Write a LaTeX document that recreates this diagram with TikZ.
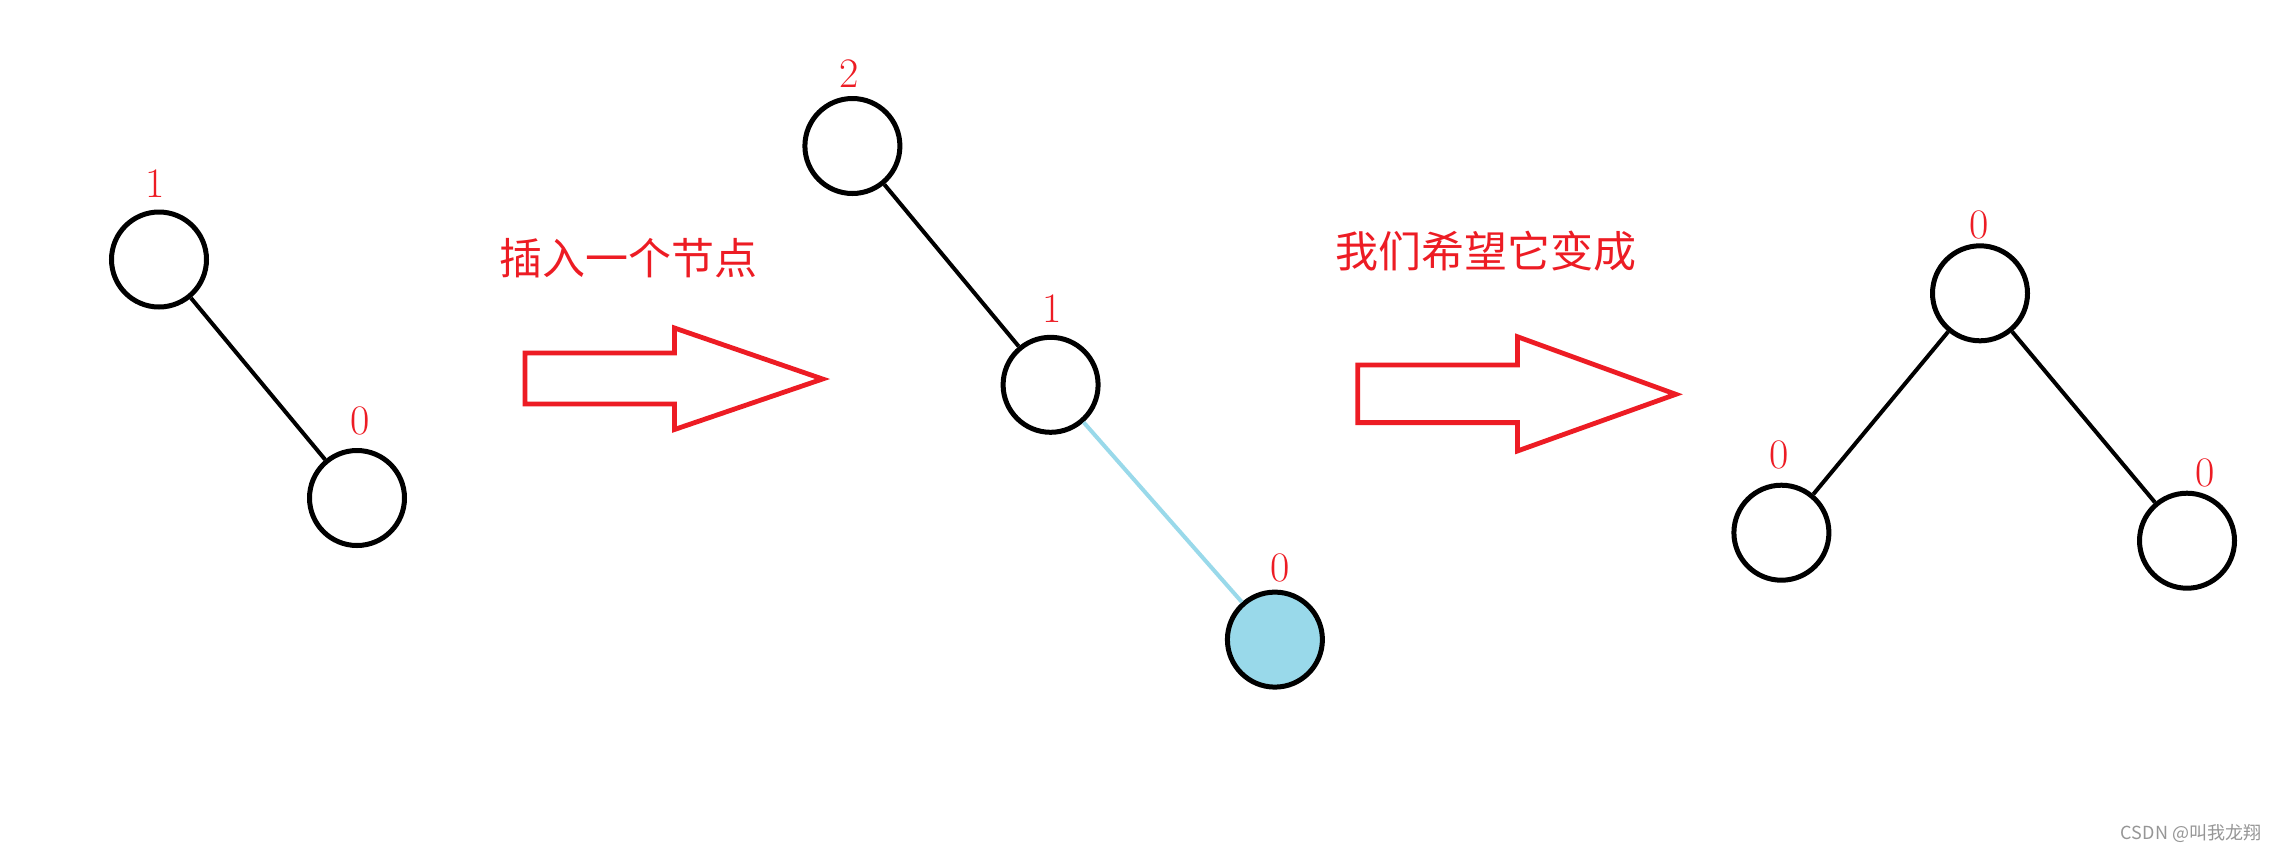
\documentclass[tikz,border=0pt]{standalone}
\usepackage{fontspec}
\newfontfamily\cjk{Noto Sans CJK SC}
\definecolor{paintred}{RGB}{237,28,36}
\definecolor{paintblue}{RGB}{153,217,234}
\definecolor{wmgray}{RGB}{150,150,150}
\begin{document}
\begin{tikzpicture}[x=0.5pt,y=-0.5pt,
  tnode/.style={circle,draw=black,line width=2.5pt,minimum size=47.5pt,inner sep=0pt},
  edge/.style={line width=2pt,black},
  newedge/.style={line width=2pt,paintblue},
  num/.style={text=paintred,font=\fontsize{21}{24}\selectfont,inner sep=0pt},
  caption/.style={text=paintred,font=\cjk\fontsize{21.5}{24}\selectfont,inner sep=0pt},
  bigarrow/.style={draw=paintred,line width=2.4pt,line join=miter},
  watermark/.style={text=wmgray,font=\cjk\fontsize{9}{11}\selectfont,inner sep=0pt}]
\fill[white] (0,0) rectangle (2274,852);
\useasboundingbox (0,0) rectangle (2274,852);

% left tree
\node[tnode] (L1) at (159,259.5) {};
\node[tnode] (L0) at (357,498) {};
\node[num] (L1lab) at (155,184) {1};
\node[num] (L0lab) at (360,421) {0};
\draw[edge] (L1) -- (L0);

% arrow 1
\draw[bigarrow] (525,353) -- (674.5,353) -- (674.5,328) -- (822.6,379) -- (674.5,429.5) -- (674.5,404) -- (525,404) -- cycle;
\node[caption] (cap1) at (628,258) {插入一个节点};

% middle tree
\node[tnode] (M2) at (852.4,146) {};
\node[tnode] (M1) at (1050.6,384.8) {};
\node[tnode,fill=paintblue] (M0) at (1274.9,639.6) {};
\node[num] (M2lab) at (849.5,73.5) {2};
\node[num] (M1lab) at (1051.8,308.5) {1};
\node[num] (M0lab) at (1279.8,568.4) {0};
\draw[edge] (M2) -- (M1);
\draw[newedge] (M1) -- (M0);

% arrow 2
\draw[bigarrow] (1357.8,365) -- (1517.4,365) -- (1517.4,336.7) -- (1675.8,394.3) -- (1517.4,451) -- (1517.4,422.6) -- (1357.8,422.6) -- cycle;
\node[caption] (cap2) at (1486,251.5) {我们希望它变成};

% right tree
\node[tnode] (R0) at (1980,293.3) {};
\node[tnode] (RL) at (1781.4,532.7) {};
\node[tnode] (RR) at (2187,540.7) {};
\node[num] (R0lab) at (1979,225) {0};
\node[num] (RLlab) at (1779.5,455) {0};
\node[num] (RRlab) at (2205,473.3) {0};
\draw[edge] (R0) -- (RL);
\draw[edge] (R0) -- (RR);

% watermark
\node[watermark] (wm) at (2191,833) {CSDN @叫我龙翔};
\end{tikzpicture}
\end{document}
